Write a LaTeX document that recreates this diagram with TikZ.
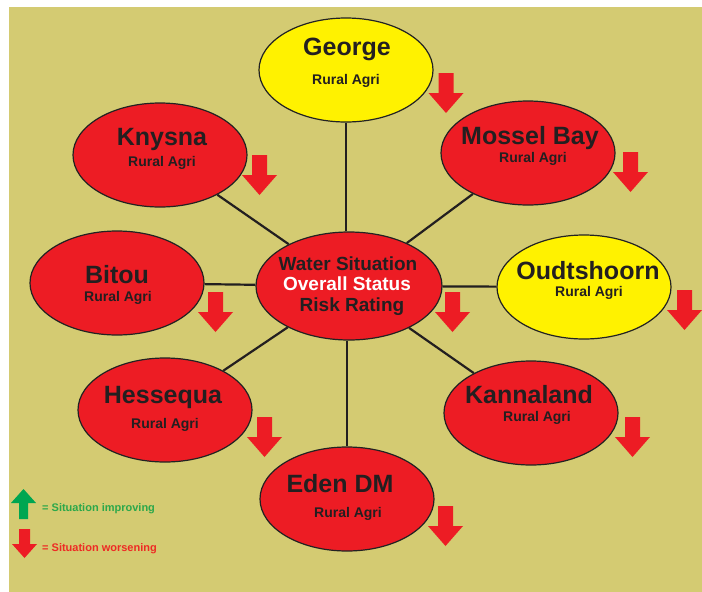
\documentclass[tikz,border=0pt]{standalone}
\usepackage{fontspec}
\setmainfont{Liberation Sans}
\usetikzlibrary{shapes.geometric}
\definecolor{bgol}{HTML}{D4CB72}
\definecolor{nred}{HTML}{ED1C24}
\definecolor{nyel}{HTML}{FFF200}
\definecolor{outl}{HTML}{222222}
\definecolor{txt}{HTML}{231F20}
\definecolor{lgreen}{HTML}{00A651}
\definecolor{lgtext}{HTML}{2BA84A}
\definecolor{lrtext}{HTML}{EE2A24}
\tikzset{
  blob/.style={ellipse, draw=outl, line width=1.2pt, inner sep=0pt,
    minimum width=174pt, minimum height=104pt},
  redblob/.style={blob, fill=nred},
  yelblob/.style={blob, fill=nyel},
  cname/.style={anchor=base, inner sep=0pt, text=txt,
    font=\bfseries\fontsize{25}{25}\selectfont},
  csub/.style={anchor=base, inner sep=0pt, text=txt,
    font=\bfseries\fontsize{14}{14}\selectfont},
  ctr/.style={anchor=base, inner sep=0pt, text=txt,
    font=\bfseries\fontsize{19}{19}\selectfont},
  link/.style={draw=txt, line width=2.2pt},
  legtext/.style={anchor=base west, inner sep=0pt,
    font=\bfseries\fontsize{11}{11}\selectfont},
  downarr/.pic={\fill[nred] (-7.5,0) -- (7.5,0) -- (7.5,20) -- (17.5,20) -- (0,40)
     -- (-17.5,20) -- (-7.5,20) -- cycle;},
  legdown/.pic={\fill[nred] (-5.5,0) -- (5.5,0) -- (5.5,15) -- (12.5,15) -- (0,29)
     -- (-12.5,15) -- (-5.5,15) -- cycle;},
  legup/.pic={\fill[lgreen] (-4.5,0) -- (4.5,0) -- (4.5,-16) -- (12.5,-16) -- (0,-30)
     -- (-12.5,-16) -- (-4.5,-16) -- cycle;}
}
\begin{document}
\begin{tikzpicture}[x=1pt,y=-1pt]
\useasboundingbox (0,0) rectangle (702,592);
\fill[white] (0,0) rectangle (702,592);
\fill[bgol] (9,7) rectangle (702,592);

% ellipses
\node[yelblob] (george) at (346,70) {};
\node[redblob] (knysna) at (160,155) {};
\node[redblob] (mossel) at (528,153) {};
\node[redblob] (bitou) at (117,283) {};
\node[redblob, minimum width=186pt, minimum height=108pt] (centre) at (349,286) {};
\node[yelblob] (oudts) at (584,287) {};
\node[redblob] (hesse) at (165,410) {};
\node[redblob] (kanna) at (531,413) {};
\node[redblob] (eden) at (347,499) {};

% connectors
\draw[link] (centre.north -| george) -- (george);
\draw[link] (centre) -- (knysna);
\draw[link] (centre) -- (mossel);
\draw[link] (centre) -- (bitou);
\draw[link] (centre) -- (oudts);
\draw[link] (centre) -- (hesse);
\draw[link] (centre) -- (kanna);
\draw[link] (centre.south -| eden) -- (eden);

% labels
\node[cname] (georgeN) at (347,55) {George};
\node[csub] (georgeS) at (346,84) {Rural Agri};
\node[cname] (knysnaN) at (162,145) {Knysna};
\node[csub] (knysnaS) at (162,166) {Rural Agri};
\node[cname] (mosselN) at (530,144) {Mossel Bay};
\node[csub] (mosselS) at (533,162) {Rural Agri};
\node[cname] (bitouN) at (117,283) {Bitou};
\node[csub] (bitouS) at (118,301) {Rural Agri};
\node[cname] (oudtsN) at (588,279) {Oudtshoorn};
\node[csub] (oudtsS) at (589,296) {Rural Agri};
\node[cname] (hesseN) at (163,403) {Hessequa};
\node[csub] (hesseS) at (165,428) {Rural Agri};
\node[cname] (kannaN) at (529,403) {Kannaland};
\node[csub] (kannaS) at (537,421) {Rural Agri};
\node[cname] (edenN) at (340,492) {Eden DM};
\node[csub] (edenS) at (348,517) {Rural Agri};
\node[ctr] (ctr1) at (348,270) {Water Situation};
\node[ctr, text=white] (ctr2) at (347,290) {Overall Status};
\node[ctr] (ctr3) at (352,311) {Risk Rating};

% trend arrows
\pic at (446,73) {downarr};
\pic at (259.5,155) {downarr};
\pic at (630.5,152) {downarr};
\pic at (215.5,292) {downarr};
\pic at (452.5,292) {downarr};
\pic at (684.5,290) {downarr};
\pic at (264.5,417) {downarr};
\pic at (632.5,417) {downarr};
\pic at (445.5,506) {downarr};

% legend
\pic at (23.5,519) {legup};
\pic at (24.5,529) {legdown};
\node[legtext, text=lgtext] (legimp) at (42,511) {= Situation improving};
\node[legtext, text=lrtext] (legwor) at (42,551) {= Situation worsening};
\end{tikzpicture}
\end{document}
